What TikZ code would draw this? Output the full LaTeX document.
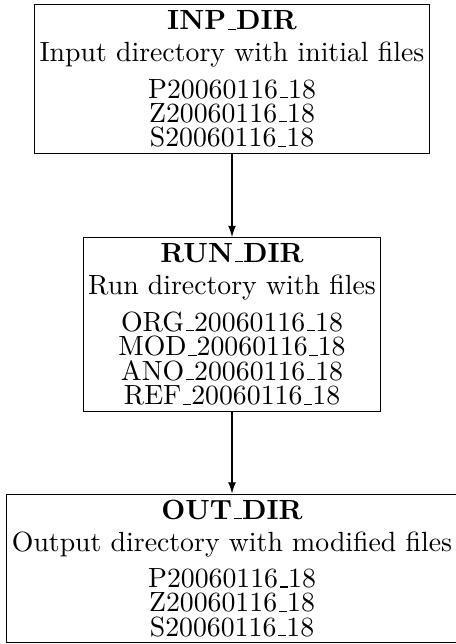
\documentclass[tikz,border=0pt]{standalone}
\usetikzlibrary{arrows.meta}
\newcommand\usc{\leavevmode\kern.06em\vbox{\hrule width.3em}}
\begin{document}
\begin{tikzpicture}[x=0.36pt,y=-0.36pt,
  dirbox/.style={draw, line width=0.4pt, align=center, anchor=north,
    inner xsep=1.8pt, inner ysep=2.1pt,
    font=\fontsize{10}{8.8}\selectfont},
  flow/.style={-{Latex[length=4pt,width=2.8pt]}, line width=0.4pt}]
\useasboundingbox (0,0) rectangle (455,644);
\node[dirbox] (inp) at (232,4.3) {\textbf{INP\usc DIR}\\[2.7pt]
  Input directory with initial files\\[3.2pt]
  P20060116\usc18\\Z20060116\usc18\\S20060116\usc18};
\node[dirbox] (run) at (232,237) {\textbf{RUN\usc DIR}\\[2.7pt]
  Run directory with files\\[3.2pt]
  ORG\usc20060116\usc18\\MOD\usc20060116\usc18\\ANO\usc20060116\usc18\\REF\usc20060116\usc18};
\node[dirbox] (out) at (232,493.5) {\textbf{OUT\usc DIR}\\[2.7pt]
  Output directory with modified files\\[3.2pt]
  P20060116\usc18\\Z20060116\usc18\\S20060116\usc18};
\draw[flow] (inp.south) -- (run.north);
\draw[flow] (run.south) -- (out.north);
\end{tikzpicture}
\end{document}
